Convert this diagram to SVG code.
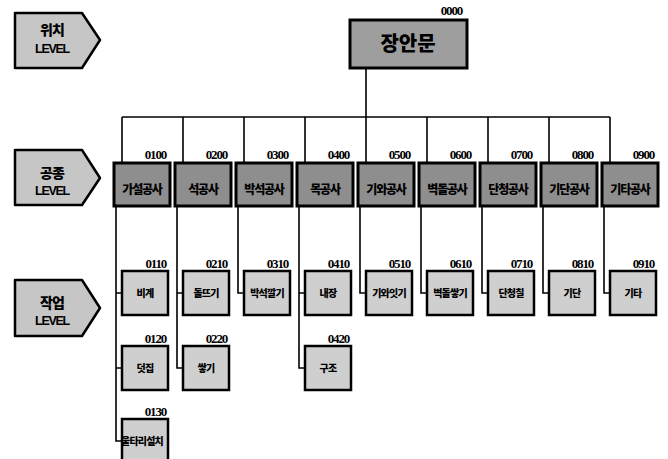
<svg xmlns="http://www.w3.org/2000/svg" width="668" height="459" viewBox="0 0 668 459">
<style>
.lvl{fill:#c6c6c6;stroke:#000;stroke-width:2.5;stroke-linejoin:round}
.top{fill:#9e9e9e;stroke:#000;stroke-width:3}
.l2{fill:#8e8e8e;stroke:#000;stroke-width:3}
.l3{fill:#cfcfcf;stroke:#000;stroke-width:2.5}
.ln{fill:none;stroke:#000;stroke-width:1.6}
.t{font-family:"Noto Sans CJK KR","Noto Sans",sans-serif;font-weight:900;fill:#000;text-anchor:middle}
.lt{font-size:14px;letter-spacing:-1px}
.le{font-family:"Liberation Sans",sans-serif;font-size:12.5px;font-weight:bold;letter-spacing:-1.3px;text-anchor:middle;fill:#000}
.c{font-family:"Liberation Serif",serif;font-size:13px;font-weight:bold;letter-spacing:-1.2px;text-anchor:end;fill:#000}
.t2{font-size:12px;letter-spacing:-1.2px}
.t3{font-size:10px;letter-spacing:-0.8px}
</style>

<g id="level-loc">
<polygon class="lvl" points="15,13 82,13 100,40 82,68 15,68"/>
<text class="t lt" x="52" y="35">위치</text>
<text class="le" x="52" y="53">LEVEL</text>
</g>
<g id="level-trade">
<polygon class="lvl" points="15,150 82,150 100,178 82,205 15,205"/>
<text class="t lt" x="52" y="178">공종</text>
<text class="le" x="52" y="195">LEVEL</text>
</g>
<g id="level-task">
<polygon class="lvl" points="15,280 82,280 100,308 82,336 15,336"/>
<text class="t lt" x="52" y="308">작업</text>
<text class="le" x="52" y="325">LEVEL</text>
</g>

<g id="connectors">
<path class="ln" d="M366,68 V117 M122,117 H610"/>
<path class="ln" d="M122,117 V163 M183,117 V163 M244,117 V163 M305,117 V163 M366,117 V163 M427,117 V163 M488,117 V163 M549,117 V163 M610,117 V163"/>
<path class="ln" d="M116,206 V441 H122 M116,293 H122 M116,368 H122"/>
<path class="ln" d="M177,206 V368 H183 M177,293 H183"/>
<path class="ln" d="M238,206 V293 H244"/>
<path class="ln" d="M299,206 V368 H305 M299,293 H305"/>
<path class="ln" d="M360,206 V293 H366"/>
<path class="ln" d="M421,206 V293 H427"/>
<path class="ln" d="M482,206 V293 H488"/>
<path class="ln" d="M543,206 V293 H549"/>
<path class="ln" d="M604,206 V293 H610"/>
</g>

<g id="n0000">
<rect class="top" x="350" y="20" width="117" height="48"/>
<text class="c" x="462" y="15">0000</text>
<text class="t" x="408" y="51" font-size="20">장안문</text>
</g>

<g id="n0100"><rect class="l2" x="114" y="163" width="56" height="43"/><text class="c" x="166" y="159">0100</text><text class="t t2" x="142" y="194">가설공사</text></g>
<g id="n0200"><rect class="l2" x="175" y="163" width="56" height="43"/><text class="c" x="227" y="159">0200</text><text class="t t2" x="203" y="194">석공사</text></g>
<g id="n0300"><rect class="l2" x="236" y="163" width="56" height="43"/><text class="c" x="288" y="159">0300</text><text class="t t2" x="264" y="194">박석공사</text></g>
<g id="n0400"><rect class="l2" x="297" y="163" width="56" height="43"/><text class="c" x="349" y="159">0400</text><text class="t t2" x="325" y="194">목공사</text></g>
<g id="n0500"><rect class="l2" x="358" y="163" width="56" height="43"/><text class="c" x="410" y="159">0500</text><text class="t t2" x="386" y="194">기와공사</text></g>
<g id="n0600"><rect class="l2" x="419" y="163" width="56" height="43"/><text class="c" x="471" y="159">0600</text><text class="t t2" x="447" y="194">벽돌공사</text></g>
<g id="n0700"><rect class="l2" x="480" y="163" width="56" height="43"/><text class="c" x="532" y="159">0700</text><text class="t t2" x="508" y="194">단청공사</text></g>
<g id="n0800"><rect class="l2" x="541" y="163" width="56" height="43"/><text class="c" x="593" y="159">0800</text><text class="t t2" x="569" y="194">기단공사</text></g>
<g id="n0900"><rect class="l2" x="602" y="163" width="56" height="43"/><text class="c" x="654" y="159">0900</text><text class="t t2" x="630" y="194">기타공사</text></g>

<g id="n0110"><rect class="l3" x="122" y="271" width="46" height="44"/><text class="c" x="166" y="268">0110</text><text class="t t3" x="145" y="297">비계</text></g>
<g id="n0120"><rect class="l3" x="122" y="346" width="46" height="44"/><text class="c" x="166" y="343">0120</text><text class="t t3" x="145" y="372">덧집</text></g>
<g id="n0130"><rect class="l3" x="122" y="419" width="46" height="44"/><text class="c" x="166" y="416">0130</text><text class="t t3" x="142" y="445">울타리설치</text></g>
<g id="n0210"><rect class="l3" x="183" y="271" width="46" height="44"/><text class="c" x="227" y="268">0210</text><text class="t t3" x="206" y="297">돌뜨기</text></g>
<g id="n0220"><rect class="l3" x="183" y="346" width="46" height="44"/><text class="c" x="227" y="343">0220</text><text class="t t3" x="206" y="372">쌓기</text></g>
<g id="n0310"><rect class="l3" x="244" y="271" width="46" height="44"/><text class="c" x="288" y="268">0310</text><text class="t t3" x="267" y="297">박석깔기</text></g>
<g id="n0410"><rect class="l3" x="305" y="271" width="46" height="44"/><text class="c" x="349" y="268">0410</text><text class="t t3" x="328" y="297">내장</text></g>
<g id="n0420"><rect class="l3" x="305" y="346" width="46" height="44"/><text class="c" x="349" y="343">0420</text><text class="t t3" x="328" y="372">구조</text></g>
<g id="n0510"><rect class="l3" x="366" y="271" width="46" height="44"/><text class="c" x="410" y="268">0510</text><text class="t t3" x="389" y="297">기와잇기</text></g>
<g id="n0610"><rect class="l3" x="427" y="271" width="46" height="44"/><text class="c" x="471" y="268">0610</text><text class="t t3" x="450" y="297">벽돌쌓기</text></g>
<g id="n0710"><rect class="l3" x="488" y="271" width="46" height="44"/><text class="c" x="532" y="268">0710</text><text class="t t3" x="511" y="297">단청칠</text></g>
<g id="n0810"><rect class="l3" x="549" y="271" width="46" height="44"/><text class="c" x="593" y="268">0810</text><text class="t t3" x="572" y="297">기단</text></g>
<g id="n0910"><rect class="l3" x="610" y="271" width="46" height="44"/><text class="c" x="654" y="268">0910</text><text class="t t3" x="633" y="297">기타</text></g>
</svg>
